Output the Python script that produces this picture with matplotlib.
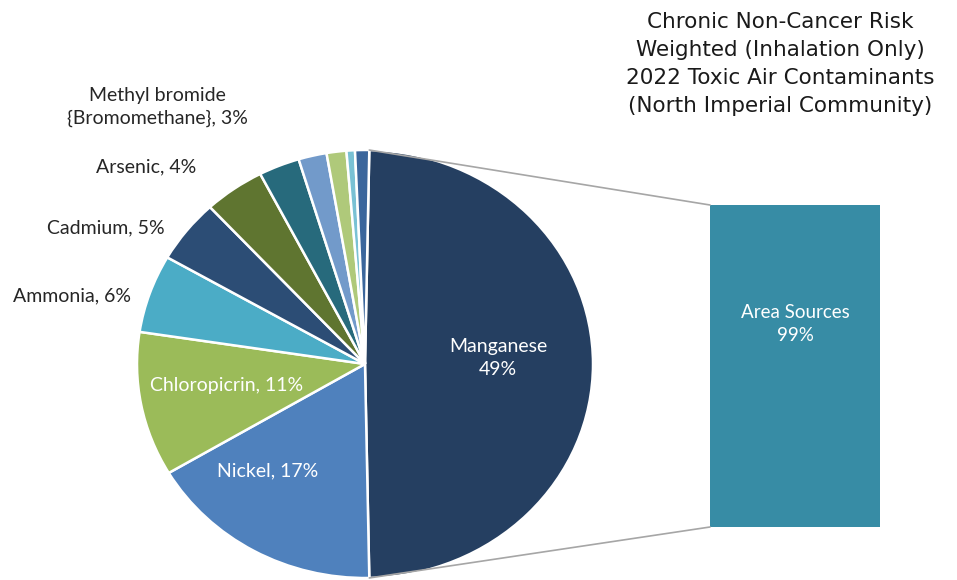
import matplotlib
matplotlib.use("Agg")
import numpy as np
import matplotlib.pyplot as plt
from matplotlib.patches import ConnectionPatch

# ---- data ----
pollutants = ["Manganese", "Nickel", "Chloropicrin", "Ammonia", "Cadmium", "Arsenic",
              "Methyl bromide\n{Bromomethane}", "Other 1", "Other 2", "Other 3", "Other 4"]
shares = [49.4, 16.8, 10.9, 5.9, 4.8, 4.3, 2.9, 2.0, 1.4, 0.6, 1.0]
pct_labels = ["49%", "17%", "11%", "6%", "5%", "4%", "3%", "", "", "", ""]
colors = ["#253F61", "#4F81BD", "#9BBB59", "#4BACC6", "#2C4D75", "#5F7530",
          "#276A7C", "#729ACA", "#AFC97A", "#79C1D4", "#3B669C"]
bar_category = ["Area Sources"]
bar_share = [99]
title = "Chronic Non-Cancer Risk\nWeighted (Inhalation Only)\n2022 Toxic Air Contaminants\n(North Imperial Community)"

W, H = 957, 580
fig = plt.figure(figsize=(W / 100, H / 100), dpi=100)

# pie axes (slightly elliptical like reference)
px0, py0, pw, ph = 137, 150, 456, 428
pax = fig.add_axes([px0 / W, 1 - (py0 + ph) / H, pw / W, ph / H])
half_angle = shares[0] / sum(shares) * 360 / 2  # split wedge centred on the right
wedges, _ = pax.pie(shares, colors=colors, startangle=half_angle, counterclock=False,
                    radius=1.0, wedgeprops=dict(edgecolor="white", linewidth=1.8))
pax.set_aspect("auto")
pax.set_xlim(-1, 1)
pax.set_ylim(-1, 1)
pax.axis("off")

# bar axes
bx0, by0, bw, bh = 710, 205, 170, 322
bax = fig.add_axes([bx0 / W, 1 - (by0 + bh) / H, bw / W, bh / H])
bax.bar([0], bar_share, width=1.0, color="#378CA5")
bax.set_xlim(-0.5, 0.5)
bax.set_ylim(0, bar_share[0])
bax.axis("off")
bax.text(0, bar_share[0] * 0.63, f"{bar_category[0]}\n{bar_share[0]}%", color="white",
         ha="center", va="center", fontsize=13.5, family="Lato", linespacing=1.45)

# connector lines from split wedge edges to bar corners
a = np.deg2rad(half_angle)
for (pxy, bxy) in [((np.cos(a), np.sin(a)), (0, 1)), ((np.cos(a), -np.sin(a)), (0, 0))]:
    cp = ConnectionPatch(xyA=pxy, coordsA=pax.transData, xyB=bxy, coordsB=bax.transAxes,
                         color="#A6A6A6", linewidth=1.2)
    fig.add_artist(cp)

# overlay axes in pixel coordinates for text
ov = fig.add_axes([0, 0, 1, 1])
ov.set_zorder(10)
ov.patch.set_alpha(0)
ov.set_xlim(0, W)
ov.set_ylim(H, 0)
ov.axis("off")

# inside labels
lab_font = dict(family="Lato", fontsize=14)
ov.text(498, 358, f"{pollutants[0]}\n{pct_labels[0]}", color="white", ha="center",
        va="center", linespacing=1.45, **lab_font)
ov.text(268, 471, f"{pollutants[1]}, {pct_labels[1]}", color="white", ha="center",
        va="center", **lab_font)
ov.text(227, 385, f"{pollutants[2]}, {pct_labels[2]}", color="white", ha="center",
        va="center", **lab_font)

# outside labels
dark = "#262626"
ov.text(131, 296, f"{pollutants[3]}, {pct_labels[3]}", color=dark, ha="right", va="center", **lab_font)
ov.text(165, 228, f"{pollutants[4]}, {pct_labels[4]}", color=dark, ha="right", va="center", **lab_font)
ov.text(196, 167, f"{pollutants[5]}, {pct_labels[5]}", color=dark, ha="right", va="center", **lab_font)
mb1, mb2 = pollutants[6].split("\n")
ov.text(157, 107, f"{mb1}\n{mb2}, {pct_labels[6]}", color=dark, ha="center", va="center",
        linespacing=1.4, **lab_font)

# title
ov.text(780, 64, title, ha="center", va="center", fontsize=15.5, family="DejaVu Sans",
        color="#1A1A1A", linespacing=1.5)

fig.savefig("out.png", dpi=100)
